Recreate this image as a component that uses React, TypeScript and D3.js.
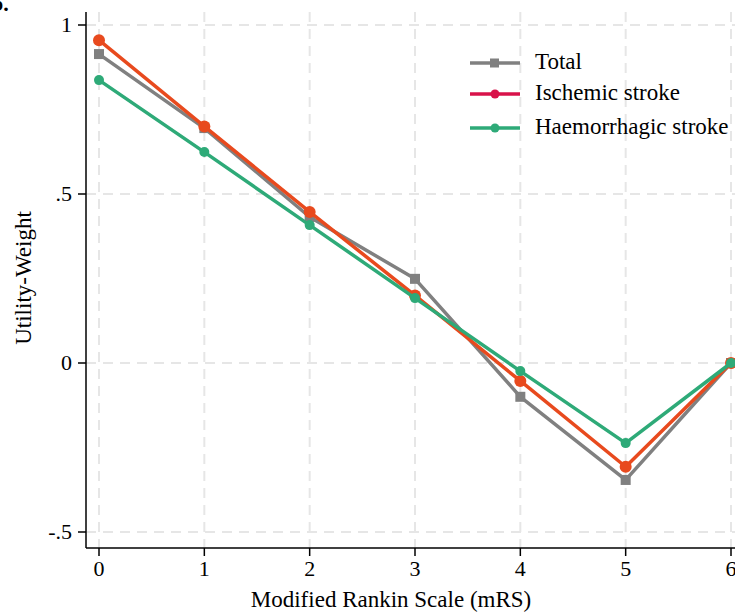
import React from "react";
import * as d3 from "d3";

const mrs = [0, 1, 2, 3, 4, 5, 6];
const totalValues = [0.914, 0.695, 0.432, 0.249, -0.1, -0.346, 0];
const ischemicValues = [0.955, 0.7, 0.447, 0.2, -0.053, -0.307, 0];
const haemorrhagicValues = [0.837, 0.624, 0.408, 0.192, -0.024, -0.237, 0];
const yTicks = [1, 0.5, 0, -0.5];
const yTickLabels = ["1", ".5", "0", "-.5"];
const seriesNames = ["Total", "Ischemic stroke", "Haemorrhagic stroke"];

const W = 735;
const H = 613;
const FONT = "'Liberation Serif', 'Times New Roman', serif";

export default function App() {
  const x = d3.scaleLinear().domain([0, 6]).range([99, 731]);
  const y = d3.scaleLinear().domain([-0.5, 1]).range([532, 25]);
  const axisLeft = 86;
  const axisBottom = 548;

  const line = d3
    .line<number>()
    .x((_, i) => x(mrs[i]))
    .y((d) => y(d));

  const series = [
    { name: seriesNames[0], values: totalValues, color: "#808080", legendColor: "#808080", marker: "square" },
    { name: seriesNames[1], values: ischemicValues, color: "#e84a1e", legendColor: "#d8124a", marker: "circle" },
    { name: seriesNames[2], values: haemorrhagicValues, color: "#2eaa78", legendColor: "#2eaa78", marker: "circle" },
  ];

  const legendY = [63, 94, 128];

  return (
    <svg
      width={W}
      height={H}
      style={{ position: "absolute", left: 0, top: 0, background: "#fff" }}
      fontFamily={FONT}
    >
      <rect width={W} height={H} fill="#fff" />
      {/* grid */}
      <g stroke="#e6e6e6" strokeWidth={2} strokeDasharray="10,7">
        {mrs.map((m) => (
          <line key={"gx" + m} x1={x(m)} x2={x(m)} y1={12} y2={axisBottom} />
        ))}
        {yTicks.map((t) => (
          <line key={"gy" + t} x1={axisLeft} x2={W} y1={y(t)} y2={y(t)} />
        ))}
      </g>

      {/* series */}
      {series.map((s) => (
        <g key={s.name}>
          <path d={line(s.values) || ""} fill="none" stroke={s.color} strokeWidth={3.5} strokeLinejoin="round" />
          {s.values.map((v, i) =>
            s.marker === "square" ? (
              <rect key={i} x={x(mrs[i]) - 5} y={y(v) - 5} width={10} height={10} fill={s.color} />
            ) : (
              <circle key={i} cx={x(mrs[i])} cy={y(v)} r={s.name === seriesNames[1] ? 6 : 5} fill={s.color} />
            )
          )}
        </g>
      ))}

      {/* axes */}
      <g stroke="#000" strokeWidth={1.5}>
        <line x1={axisLeft} x2={axisLeft} y1={12} y2={axisBottom} />
        <line x1={axisLeft} x2={W} y1={axisBottom} y2={axisBottom} />
        {yTicks.map((t) => (
          <line key={"ty" + t} x1={axisLeft - 8} x2={axisLeft} y1={y(t)} y2={y(t)} />
        ))}
        {mrs.map((m) => (
          <line key={"tx" + m} x1={x(m)} x2={x(m)} y1={axisBottom} y2={axisBottom + 8} />
        ))}
      </g>
      <g fontSize={22} fill="#000">
        {yTicks.map((t, i) => (
          <text key={"ly" + t} x={axisLeft - 14} y={y(t) + 7} textAnchor="end">
            {yTickLabels[i]}
          </text>
        ))}
        {mrs.map((m) => (
          <text key={"lx" + m} x={x(m)} y={576} textAnchor="middle">
            {m}
          </text>
        ))}
        <text x={391} y={607} textAnchor="middle" fontSize={23}>
          Modified Rankin Scale (mRS)
        </text>
        <text transform={`translate(31, 278) rotate(-90)`} textAnchor="middle" fontSize={23}>
          Utility-Weight
        </text>
        <text x={-9} y={11} fontWeight="bold" fontSize={22}>
          b.
        </text>
      </g>

      {/* legend */}
      {series.map((s, i) => (
        <g key={"lg" + s.name}>
          <line x1={470} x2={520} y1={legendY[i]} y2={legendY[i]} stroke={s.legendColor} strokeWidth={3.5} />
          {s.marker === "square" ? (
            <rect x={490} y={legendY[i] - 4.5} width={9} height={9} fill={s.legendColor} />
          ) : (
            <circle cx={495} cy={legendY[i]} r={4.5} fill={s.legendColor} />
          )}
          <text x={535} y={legendY[i] + 6} fontSize={23} fill="#000">
            {s.name}
          </text>
        </g>
      ))}
    </svg>
  );
}
